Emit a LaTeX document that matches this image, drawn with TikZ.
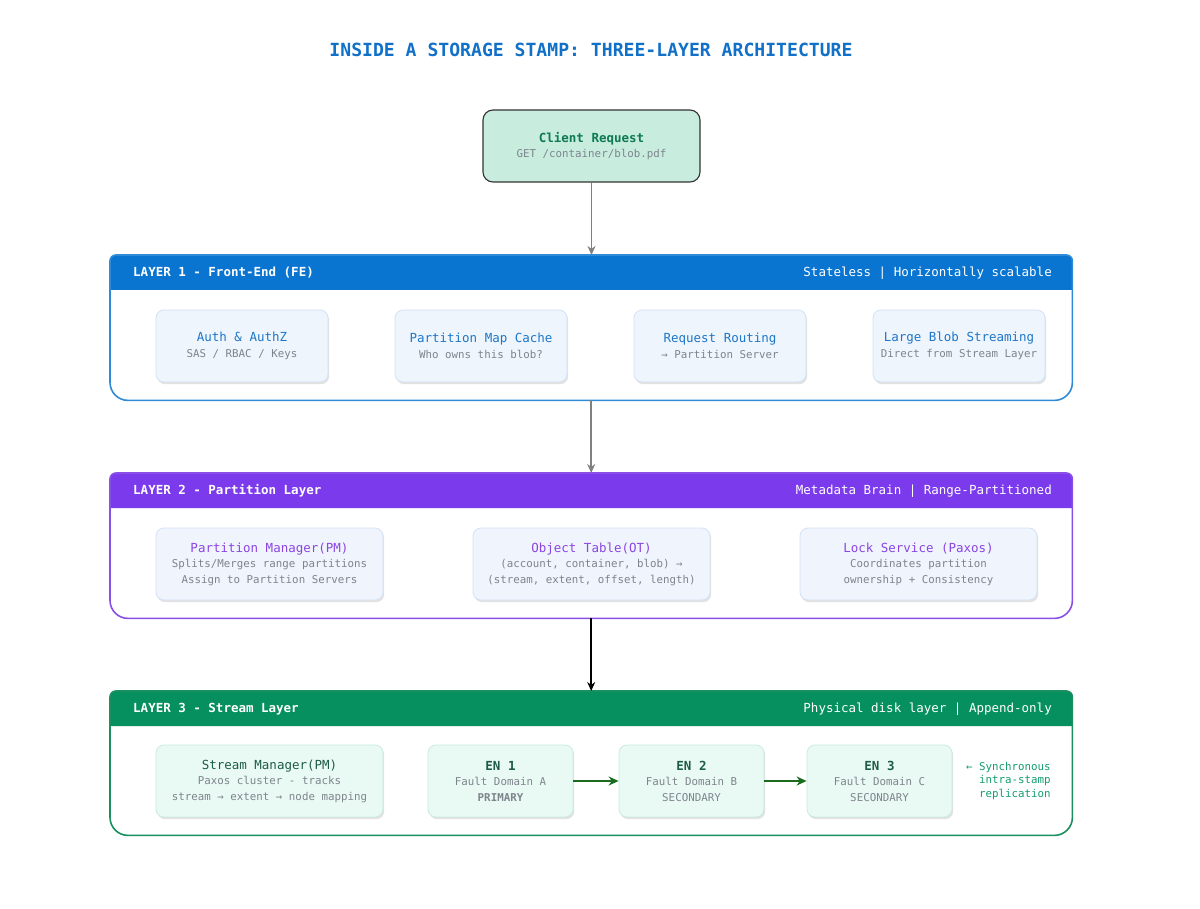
\documentclass[tikz,border=0pt]{standalone}
\usepackage{fontspec}
\setmainfont{DejaVu Sans Mono}
\usetikzlibrary{arrows.meta,shadows}
\definecolor{titleblue}{HTML}{1170C8}
\definecolor{hdrA}{HTML}{0A74D1}
\definecolor{brdA}{HTML}{2F8BD8}
\definecolor{txtA}{HTML}{1D76C8}
\definecolor{fillA}{HTML}{EFF5FD}
\definecolor{lineA}{HTML}{D2E3F5}
\definecolor{hdrB}{HTML}{7C3AED}
\definecolor{brdB}{HTML}{8A4FE6}
\definecolor{txtB}{HTML}{8B45E3}
\definecolor{fillB}{HTML}{EFF4FD}
\definecolor{lineB}{HTML}{D5E2F5}
\definecolor{hdrC}{HTML}{06905F}
\definecolor{brdC}{HTML}{1A8F60}
\definecolor{txtC}{HTML}{1D5C47}
\definecolor{fillC}{HTML}{E9F9F3}
\definecolor{lineC}{HTML}{C8ECDD}
\definecolor{subgray}{HTML}{7E848C}
\definecolor{clientfill}{HTML}{C8EDDF}
\definecolor{clientgreen}{HTML}{0E7A50}
\definecolor{arrowgray}{HTML}{808080}
\definecolor{engreen}{HTML}{1B6B1F}
\definecolor{notegreen}{HTML}{139E6C}
\newcommand\ttlfont{\fontsize{12.5}{15.5}\selectfont}
\newcommand\subfont{\fontsize{10.8}{15.5}\selectfont}
\tikzset{
  frame/.style={draw=none, minimum width=962pt, minimum height=145pt, anchor=north west, inner sep=0pt},
  hdrtext/.style={text=white, font=\ttlfont\bfseries, inner sep=0pt},
  hdrright/.style={text=white, font=\ttlfont, inner sep=0pt, anchor=east},
  card/.style={rounded corners=8pt, minimum height=72pt, align=center, inner sep=2pt,
    font=\subfont, text=subgray, line width=0.8pt,
    drop shadow={shadow xshift=1.2pt, shadow yshift=-2.2pt, opacity=0.16, fill=black!70}},
  cardA/.style={card, fill=fillA, draw=lineA, minimum width=172pt},
  cardB/.style={card, fill=fillB, draw=lineB},
  cardC/.style={card, fill=fillC, draw=lineC},
  flow/.style={draw=arrowgray, line width=1.5pt, -{Stealth[length=9pt,width=8pt]}},
  flowdark/.style={draw=black, line width=1.5pt, -{Stealth[length=9pt,width=8pt]}},
  repl/.style={draw=engreen, line width=1.8pt, -{Stealth[length=10pt,width=9pt]}},
}
\begin{document}
\begin{tikzpicture}[x=1pt,y=-1pt]
\useasboundingbox[fill=white] (0,0) rectangle (1200,909);

% Title
\node[text=titleblue, font=\fontsize{18.1}{22}\selectfont\bfseries] (title) at (591,50) {INSIDE A STORAGE STAMP: THREE-LAYER ARCHITECTURE};

% Client request
\node[draw=black!80, fill=clientfill, rounded corners=10pt, line width=1.1pt,
      minimum width=217pt, minimum height=72pt, align=center, font=\subfont, text=subgray] (client) at (591.5,146)
  {{\ttlfont\bfseries\textcolor{clientgreen}{Client Request}}\\GET /container/blob.pdf};

% ---------------- Layer 1 ----------------
\node[frame] (L1) at (110,255) {};
\fill[white] (L1.north west) rectangle (L1.south east);
\fill[hdrA] ([yshift=-35pt]L1.north west) [rounded corners=6pt] -- (L1.north west) -- (L1.north east) [sharp corners] -- ([yshift=-35pt]L1.north east) -- cycle;
\draw[brdA, line width=1.6pt] (L1.west) [rounded corners=6pt] -- (L1.north west) -- (L1.north east) -- (L1.east) [rounded corners=18pt] -- (L1.south east) -- (L1.south west) -- (L1.west);
\node[hdrtext, anchor=west] (L1t) at (133,273) {LAYER 1 - Front-End (FE)};
\node[hdrright] (L1r) at (1052,273) {Stateless | Horizontally scalable};

\node[cardA] (auth) at (242,346) {{\ttlfont\textcolor{txtA}{Auth \& AuthZ}}\\SAS / RBAC / Keys};
\node[cardA] (pmc) at (481,346) {{\ttlfont\textcolor{txtA}{Partition Map Cache}}\\Who owns this blob?};
\node[cardA] (rr) at (720,346) {{\ttlfont\textcolor{txtA}{Request Routing}}\\→ Partition Server};
\node[cardA] (lbs) at (959,346) {{\ttlfont\textcolor{txtA}{Large Blob Streaming}}\\Direct from Stream Layer};

% ---------------- Layer 2 ----------------
\node[frame] (L2) at (110,473) {};
\fill[white] (L2.north west) rectangle (L2.south east);
\fill[hdrB] ([yshift=-35pt]L2.north west) [rounded corners=6pt] -- (L2.north west) -- (L2.north east) [sharp corners] -- ([yshift=-35pt]L2.north east) -- cycle;
\draw[brdB, line width=1.6pt] (L2.west) [rounded corners=6pt] -- (L2.north west) -- (L2.north east) -- (L2.east) [rounded corners=18pt] -- (L2.south east) -- (L2.south west) -- (L2.west);
\node[hdrtext, anchor=west] (L2t) at (133,491) {LAYER 2 - Partition Layer};
\node[hdrright] (L2r) at (1052,491) {Metadata Brain | Range-Partitioned};

\node[cardB, minimum width=227pt] (pm) at (269.5,564) {{\ttlfont\textcolor{txtB}{Partition Manager(PM)}}\\Splits/Merges range partitions\\Assign to Partition Servers};
\node[cardB, minimum width=237pt] (ot) at (591.5,564) {{\ttlfont\textcolor{txtB}{Object Table(OT)}}\\(account, container, blob) →\\(stream, extent, offset, length)};
\node[cardB, minimum width=237pt] (ls) at (918.5,564) {{\ttlfont\textcolor{txtB}{Lock Service (Paxos)}}\\Coordinates partition\\ownership + Consistency};

% ---------------- Layer 3 ----------------
\node[frame, minimum height=144pt] (L3) at (110,691) {};
\fill[white] (L3.north west) rectangle (L3.south east);
\fill[hdrC] ([yshift=-35pt]L3.north west) [rounded corners=6pt] -- (L3.north west) -- (L3.north east) [sharp corners] -- ([yshift=-35pt]L3.north east) -- cycle;
\draw[brdC, line width=1.6pt] (L3.west) [rounded corners=6pt] -- (L3.north west) -- (L3.north east) -- (L3.east) [rounded corners=18pt] -- (L3.south east) -- (L3.south west) -- (L3.west);
\node[hdrtext, anchor=west] (L3t) at (133,709) {LAYER 3 - Stream Layer};
\node[hdrright] (L3r) at (1052,709) {Physical disk layer | Append-only};

\node[cardC, minimum width=227pt] (sm) at (269.5,781) {{\ttlfont\textcolor{txtC}{Stream Manager(PM)}}\\Paxos cluster - tracks\\stream → extent → node mapping};
\node[cardC, minimum width=145pt] (en1) at (500.5,781) {{\ttlfont\bfseries\textcolor{txtC}{EN 1}}\\Fault Domain A\\\textbf{PRIMARY}};
\node[cardC, minimum width=145pt] (en2) at (691.5,781) {{\ttlfont\bfseries\textcolor{txtC}{EN 2}}\\Fault Domain B\\SECONDARY};
\node[cardC, minimum width=145pt] (en3) at (879.5,781) {{\ttlfont\bfseries\textcolor{txtC}{EN 3}}\\Fault Domain C\\SECONDARY};

\node[anchor=west, align=left, text=notegreen, font=\fontsize{10.8}{13.5}\selectfont, inner sep=0pt] (note) at (966,781)
  {← Synchronous\\\phantom{← }intra-stamp\\\phantom{← }replication};

% ---------------- Connectors ----------------
\draw[flow] (client.south) -- (client.south |- L1.north);
\draw[flow] (L1.south) -- (L2.north);
\draw[flowdark] (L2.south) -- (L3.north);
\draw[repl] (en1.east) -- (en2.west);
\draw[repl] (en2.east) -- (en3.west);
\end{tikzpicture}
\end{document}
